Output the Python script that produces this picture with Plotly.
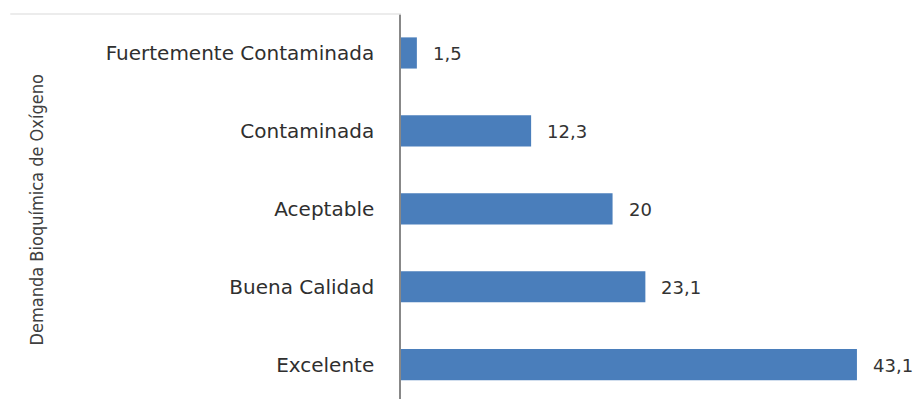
import plotly.graph_objects as go

categories = ["Excelente", "Buena Calidad", "Aceptable", "Contaminada", "Fuertemente Contaminada"]
values = [43.1, 23.1, 20, 12.3, 1.5]
value_labels = [f"{v:g}".replace(".", ",") for v in values]
axis_title = "Demanda Bioquímica de Oxígeno"

W, H = 922, 399
ML, MR, MT, MB = 401, 0, 14, 0

fig = go.Figure()
fig.add_trace(go.Bar(
    x=values, y=categories, orientation="h",
    marker=dict(color="#4A7EBB", line=dict(width=0)),
    width=0.4, cliponaxis=False, hoverinfo="skip",
))

for v, c, lab in zip(values, categories, value_labels):
    fig.add_annotation(x=v, y=c, text=lab, showarrow=False, xanchor="left",
                       xshift=14, yshift=-1,
                       font=dict(family="DejaVu Sans", size=18, color="#333333"))

fig.add_annotation(xref="paper", yref="paper", x=-0.7245, y=0.49, text=axis_title,
                   textangle=-90, showarrow=False,
                   font=dict(family="Liberation Sans Narrow, Arial Narrow, DejaVu Sans Condensed, sans-serif",
                             size=18, color="#404040"))

fig.add_shape(type="line", xref="paper", yref="paper", x0=-0.75, x1=0, y0=1.0, y1=1.0,
              line=dict(color="#e6e6e6", width=1.5))

fig.update_layout(
    width=W, height=H,
    margin=dict(l=ML, r=MR, t=MT, b=MB, pad=0),
    paper_bgcolor="white", plot_bgcolor="white",
    showlegend=False,
    xaxis=dict(range=[0, 49.25], visible=False, showgrid=False, zeroline=False),
    yaxis=dict(range=[-0.44, 4.5], showline=True, linecolor="#888888", linewidth=1.5,
               showgrid=False, zeroline=False, ticks="", ticklabelstandoff=21,
               tickfont=dict(family="DejaVu Sans", size=20, color="#2f2f2f")),
)

fig.write_html("out.html")
